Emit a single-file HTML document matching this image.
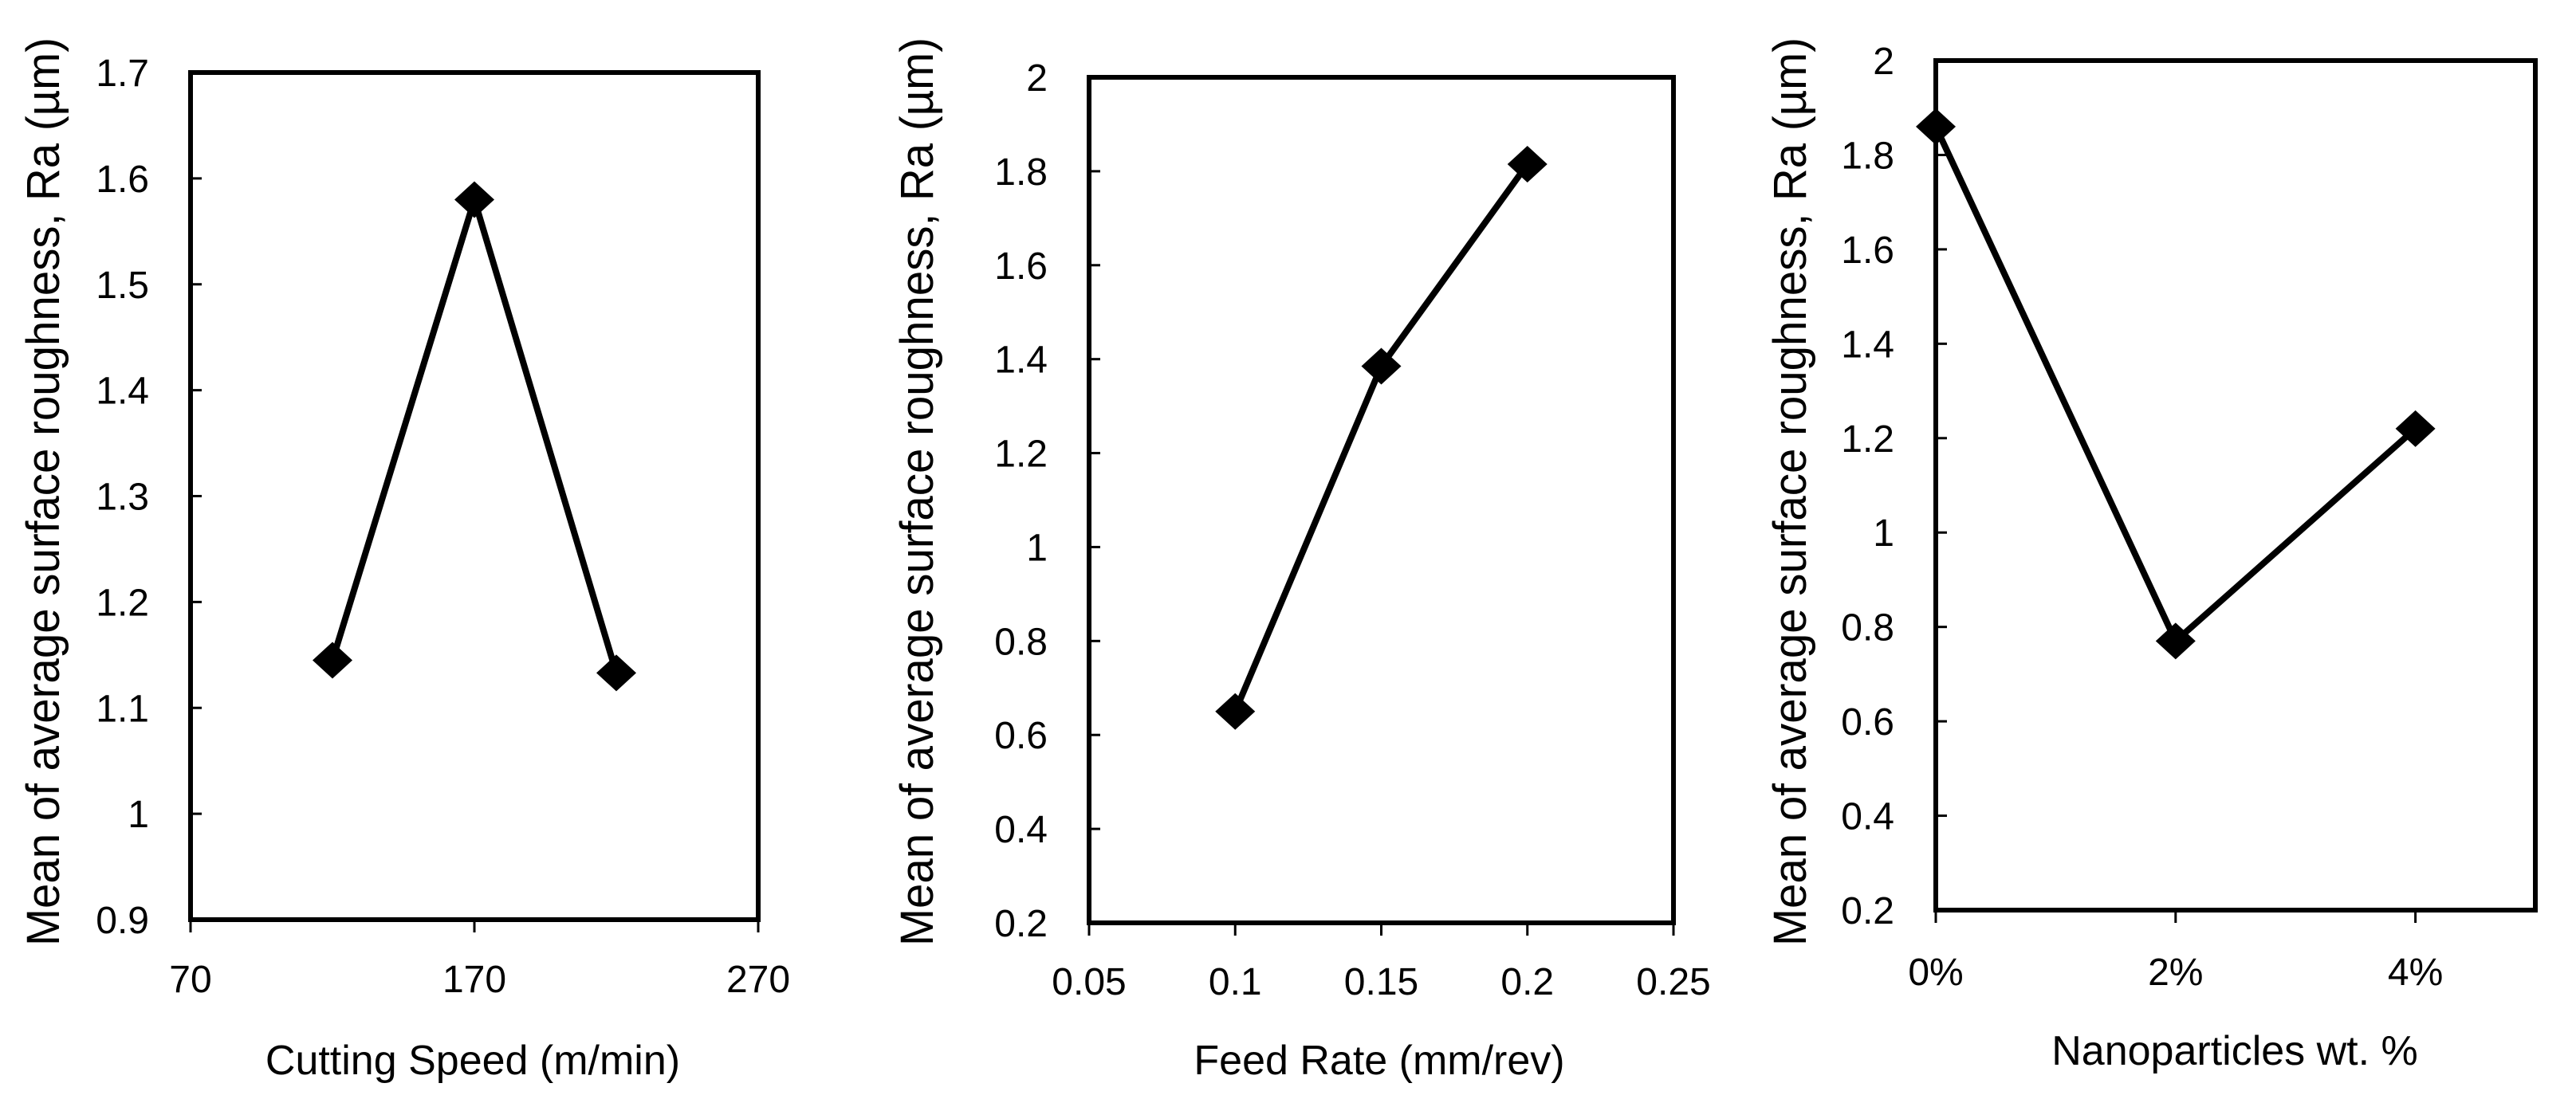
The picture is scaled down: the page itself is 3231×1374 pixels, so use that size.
<!DOCTYPE html>
<html><head><meta charset="utf-8"><style>
html,body{margin:0;padding:0;background:#fff;}
svg{display:block;}
text{font-family:"Liberation Sans",sans-serif;fill:#000;}
</style></head>
<body>
<svg id="chart" width="3231" height="1374" viewBox="0 0 3231 1374" xmlns="http://www.w3.org/2000/svg"></svg>
<script>
// Panel 1: cutting speed
const speedCategories = [120, 170, 220];
const speedValues = [1.145, 1.58, 1.133];
const speedXTicks = [70, 170, 270];
const speedYTicks = [0.9, 1.0, 1.1, 1.2, 1.3, 1.4, 1.5, 1.6, 1.7];
const speedYLabels = ["0.9", "1", "1.1", "1.2", "1.3", "1.4", "1.5", "1.6", "1.7"];
// Panel 2: feed rate
const feedCategories = [0.1, 0.15, 0.2];
const feedValues = [0.65, 1.385, 1.815];
const feedXTicks = [0.05, 0.1, 0.15, 0.2, 0.25];
const feedYTicks = [0.2, 0.4, 0.6, 0.8, 1.0, 1.2, 1.4, 1.6, 1.8, 2.0];
const feedYLabels = ["0.2", "0.4", "0.6", "0.8", "1", "1.2", "1.4", "1.6", "1.8", "2"];
// Panel 3: nanoparticles
const nanoCategories = [0, 2, 4];
const nanoValues = [1.86, 0.77, 1.22];
const nanoXTicks = [0, 2, 4];
const nanoXLabels = ["0%", "2%", "4%"];
const nanoYTicks = [0.2, 0.4, 0.6, 0.8, 1.0, 1.2, 1.4, 1.6, 1.8, 2.0];
const nanoYLabels = ["0.2", "0.4", "0.6", "0.8", "1", "1.2", "1.4", "1.6", "1.8", "2"];

const NS = "http://www.w3.org/2000/svg";
const svg = document.getElementById("chart");
function mk(tag, attrs, parent) {
  const e = document.createElementNS(NS, tag);
  for (const k in attrs) e.setAttribute(k, attrs[k]);
  (parent || svg).appendChild(e);
  return e;
}

const panels = [
  {id:"speed", L:239, R:951, T:91, B:1154, xmin:70, xmax:270, ymin:0.9, ymax:1.7,
   cats:speedCategories, vals:speedValues, xt:speedXTicks, xl:speedXTicks.map(String),
   yt:speedYTicks, yl:speedYLabels, xlabY:1245, title:"Cutting Speed (m/min)", titleX:593, titleY:1348, ytX:54},
  {id:"feed", L:1366, R:2099, T:97, B:1158, xmin:0.05, xmax:0.25, ymin:0.2, ymax:2.0,
   cats:feedCategories, vals:feedValues, xt:feedXTicks, xl:feedXTicks.map(String),
   yt:feedYTicks, yl:feedYLabels, xlabY:1248, title:"Feed Rate (mm/rev)", titleX:1730, titleY:1348, ytX:1150},
  {id:"nano", L:2428, R:3180, T:76, B:1142, xmin:0, xmax:5, ymin:0.2, ymax:2.0,
   cats:nanoCategories, vals:nanoValues, xt:nanoXTicks, xl:nanoXLabels,
   yt:nanoYTicks, yl:nanoYLabels, xlabY:1236, title:"Nanoparticles wt. %", titleX:2803, titleY:1336, ytX:2245}
];

panels.forEach(p => {
  const g = mk("g", {});
  
  
  const sx = v => p.L + (v - p.xmin) / (p.xmax - p.xmin) * (p.R - p.L);
  const sy = v => p.B - (v - p.ymin) / (p.ymax - p.ymin) * (p.B - p.T);

  const frame = mk("rect", {x:p.L, y:p.T, width:p.R-p.L, height:p.B-p.T, fill:"none", stroke:"#000", "stroke-width":6}, g);
  
  

  p.yt.forEach((v, i) => {
    const y = sy(v);
    const t = mk("line", {x1:p.L, x2:p.L+14, y1:y, y2:y, stroke:"#000", "stroke-width":3}, g);
    
    
    const lab = mk("text", {x:p.L-52, y:y+17, "font-size":48, "text-anchor":"end"}, g);
    lab.textContent = p.yl[i];
    
    
  });
  p.xt.forEach((v, i) => {
    const x = sx(v);
    const t = mk("line", {x1:x, x2:x, y1:p.B, y2:p.B+16, stroke:"#000", "stroke-width":3}, g);
    
    
    const lab = mk("text", {x:x, y:p.xlabY, "font-size":48, "text-anchor":"middle"}, g);
    lab.textContent = p.xl[i];
    
    
  });

  const pts = p.cats.map((c, i) => sx(c) + "," + sy(p.vals[i])).join(" ");
  const line = mk("polyline", {points:pts, fill:"none", stroke:"#000", "stroke-width":8, "stroke-linejoin":"miter"}, g);
  
  
  p.cats.forEach((c, i) => {
    const x = sx(c), y = sy(p.vals[i]);
    const d = mk("polygon", {points:`${x},${y-23} ${x+25},${y} ${x},${y+23} ${x-25},${y}`, fill:"#000"}, g);
    
    
  });

  const xt = mk("text", {x:p.titleX, y:p.titleY, "font-size":52, "text-anchor":"middle"}, g);
  xt.textContent = p.title;
  
  

  const cy = 617;
  const yt = mk("text", {x:0, y:0, "font-size":58, "text-anchor":"middle", textLength:1140, lengthAdjust:"spacingAndGlyphs",
    transform:`translate(${p.ytX+20},${cy}) rotate(-90)`}, g);
  yt.textContent = "Mean of average surface roughness, Ra (\u00B5m)";
  
  
});
</script>
</body></html>
